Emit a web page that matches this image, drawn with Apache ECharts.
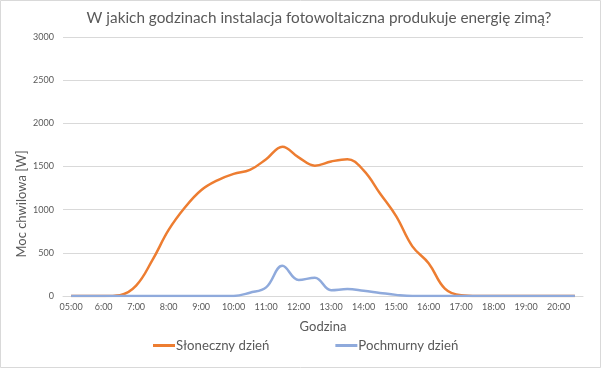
<!DOCTYPE html>
<html>
<head>
<meta charset="utf-8">
<script src="https://cdn.jsdelivr.net/npm/echarts@6/dist/echarts.min.js"></script>
<style>
html,body{margin:0;padding:0;background:#fff;}
#c{width:602px;height:369px;}
</style>
</head>
<body>
<div id="c"></div>
<script>
// Data (30-minute steps, 05:00 - 20:30)
const categories = ["05:00","05:30","6:00","6:30","7:00","7:30","8:00","8:30","9:00","9:30","10:00","10:30","11:00","11:30","12:00","12:30","13:00","13:30","14:00","14:30","15:00","15:30","16:00","16:30","17:00","17:30","18:00","18:30","19:00","19:30","20:00","20:30"];
const sunnyDay = [0,0,0,10,120,415,765,1025,1225,1340,1415,1460,1585,1730,1605,1510,1558,1585,1455,1190,925,575,380,85,8,0,0,0,0,0,0,0];
const cloudyDay = [0,0,0,0,0,0,0,0,0,0,0,38,100,350,185,212,68,80,60,36,13,0,0,0,0,0,0,0,0,0,0,0];
const yTicks = [0,500,1000,1500,2000,2500,3000];
const seriesNames = ["Słoneczny dzień","Pochmurny dzień"];
const titleText = "W jakich godzinach instalacja fotowoltaiczna produkuje energię zimą?";

const FONT = "Lato, 'Open Sans', sans-serif";
const chart = echarts.init(document.getElementById('c'), null, {renderer:'canvas'});
chart.setOption({
  animation:false,
  backgroundColor:'#fff',
  grid:{left:63,right:19,top:37,bottom:73,containLabel:false},
  legend:{
    bottom:12, left:148,
    itemWidth:22, itemHeight:3, itemGap:66,
    icon:'rect',
    textStyle:{fontFamily:FONT,fontSize:13.2,color:'#595959',padding:[0,0,0,-4]},
    data:seriesNames
  },
  xAxis:{
    type:'category',
    data:categories,
    boundaryGap:true,
    name:'Godzina', nameLocation:'middle', nameGap:24,
    nameTextStyle:{fontFamily:FONT,fontSize:13,color:'#595959'},
    axisLine:{lineStyle:{color:'#d9d9d9',width:1}},
    axisTick:{show:false},
    axisLabel:{interval:1,fontFamily:FONT,fontSize:9,color:'#595959',margin:7}
  },
  yAxis:{
    type:'value',
    min:yTicks[0], max:yTicks[yTicks.length-1], interval:500,
    axisLine:{show:false},
    axisTick:{show:false},
    splitLine:{lineStyle:{color:'#d9d9d9',width:1}},
    axisLabel:{fontFamily:FONT,fontSize:9,color:'#595959',margin:9,formatter:function(v){return String(v);}}
  },
  graphic:[
    {type:'text', x:319, y:18,
     style:{text:titleText,fontFamily:FONT,fontSize:15.3,fill:'#595959',align:'center',verticalAlign:'middle'}},
    {type:'text', x:22, y:204, rotation:Math.PI/2,
     style:{text:'Moc chwilowa [W]',fontFamily:FONT,fontSize:13,fill:'#595959',align:'center',verticalAlign:'middle'}},
    {type:'rect', shape:{x:0.5,y:0.5,width:600,height:367},
     style:{fill:'none',stroke:'#d9d9d9',lineWidth:1}, silent:true}
  ],
  series:[
    {name:seriesNames[0],type:'line',data:sunnyDay,smooth:0.4,showSymbol:false,symbol:'none',
     lineStyle:{color:'#ED7D31',width:2.5},itemStyle:{color:'#ED7D31'}},
    {name:seriesNames[1],type:'line',data:cloudyDay,smooth:0.4,showSymbol:false,symbol:'none',
     lineStyle:{color:'#8FAADC',width:2.5},itemStyle:{color:'#8FAADC'}}
  ]
});
</script>
</body>
</html>
